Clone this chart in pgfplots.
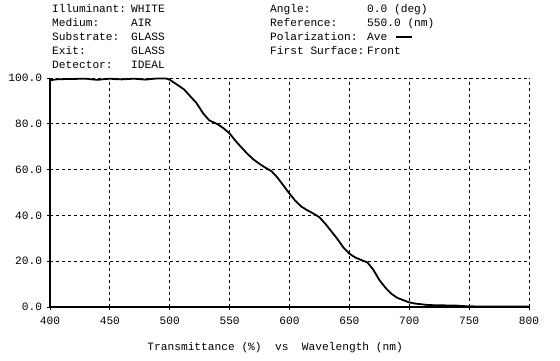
\documentclass[border=0pt]{standalone}
\usepackage{fontspec}
\setmainfont{Liberation Mono}
\usepackage{pgfplots}
\pgfplotsset{compat=1.18}
\begin{document}
\fontsize{11.2}{13}\selectfont
\begin{tikzpicture}[x=1pt,y=1pt]
\useasboundingbox (0,0) rectangle (560,360);
% header (pixel y -> 360 - y)
\begin{scope}[every node/.style={anchor=base west,inner sep=0pt,font=\fontsize{11.2}{13}\selectfont}]
\node at (52,348) {Illuminant:};
\node at (52,334) {Medium:};
\node at (52,320) {Substrate:};
\node at (52,306) {Exit:};
\node at (52,292) {Detector:};
\node at (131,348) {WHITE};
\node at (131,334) {AIR};
\node at (131,320) {GLASS};
\node at (131,306) {GLASS};
\node at (131,292) {IDEAL};
\node at (270,348) {Angle:};
\node at (270,334) {Reference:};
\node at (270,320) {Polarization:};
\node at (270,306) {First Surface:};
\node at (367,348) {0.0 (deg)};
\node at (367,334) {550.0 (nm)};
\node at (367,320) {Ave};
\node at (367,306) {Front};
\end{scope}
\draw[line width=2pt] (396,323.5) -- (412,323.5);
\begin{axis}[
  at={(50pt,53pt)}, anchor=south west,
  scale only axis, width=479pt, height=229pt,
  xmin=400, xmax=800, ymin=0, ymax=100,
  axis x line=bottom, axis y line=left,
  axis line style={-, line width=1.3pt},
  xtick={400,450,500,550,600,650,700,750,800},
  xticklabels={400,450,500,550,600,650,700,750,800},
  ytick={0,20,40,60,80,100},
  yticklabels={0.0,20.0,40.0,60.0,80.0,100.0},
  tick align=outside, major tick length=3pt,
  tick style={black, line width=0.8pt},
  grid=major,
  major grid style={black, line width=0.8pt, dash pattern=on 3pt off 3pt},
  ticklabel style={font=\fontsize{11.2}{13}\selectfont},
  xticklabel style={yshift=-3pt},
  yticklabel style={xshift=-1pt},
  xlabel={Transmittance (\%)\ \ vs\ \ Wavelength (nm)},
  xlabel style={font=\fontsize{11.2}{13}\selectfont, at={(axis description cs:0.47,0)}, anchor=base, yshift=-43pt},
  clip=false,
]
\addplot[black, line width=1.8pt] coordinates {
(400,99.0) (405,99.4) (410,99.5) (420,99.6) (430,99.7) (435,99.4) (440,99.2)
(445,99.5) (450,99.7) (455,99.5) (460,99.4) (470,99.7) (475,99.5) (480,99.3)
(485,99.6) (490,99.8) (497,99.8) (500,99.2) (505,97.5) (512,95.0) (518,91.5)
(522,89.3) (528,84.5) (533,81.5) (540,79.8) (545,78.0) (550,75.8) (555,72.5)
(560,69.6) (565,66.8) (570,64.4) (575,62.5) (580,60.8) (585,59.3) (590,56.5)
(595,53.0) (600,49.5) (605,46.3) (610,43.8) (615,42.2) (620,40.8) (625,39.2)
(630,36.3) (635,33.0) (640,29.7) (645,26.0) (650,23.3) (655,21.6) (660,20.5)
(665,19.5) (670,16.3) (675,11.8) (680,8.5) (685,5.8) (690,4.0) (695,3.0)
(700,2.0) (705,1.5) (710,1.2) (715,0.9) (720,0.8) (730,0.7) (740,0.6)
(745,0.4) (750,0.3) (760,0.2) (800,0.2)
};
\end{axis}
\end{tikzpicture}
\end{document}
